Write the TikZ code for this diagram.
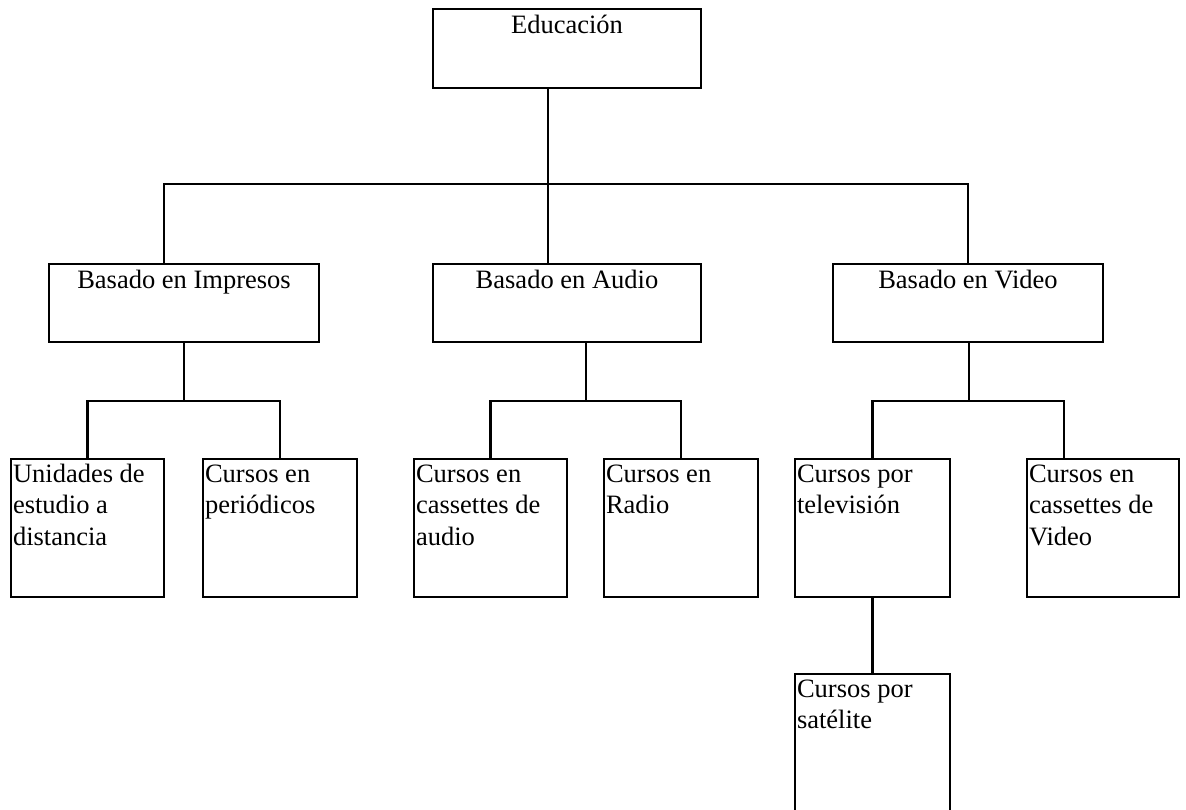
\documentclass[tikz,border=0pt]{standalone}
\usepackage{fontspec}
\setmainfont{Liberation Serif}
\newcommand{\lines}[1]{\parbox[t]{150pt}{\raggedright #1}}
\begin{document}
\begin{tikzpicture}[x=1pt,y=-1pt,
  box/.style={draw=black, line width=2.5pt, rectangle, inner sep=0pt, outer sep=0pt, anchor=north west},
  hd/.style={inner sep=0pt, outer sep=0pt, anchor=base, font=\fontsize{26.5}{31.5}\selectfont},
  lf/.style={inner sep=0pt, outer sep=0pt, anchor=base west, font=\fontsize{26.5}{31.5}\selectfont},
  wire/.style={line width=2.5pt, line cap=rect}]
\useasboundingbox (0,0) rectangle (1186,809);
\fill[white] (0,0) rectangle (1186,809);
\clip (0,0) rectangle (1186,809);
% boxes
\node[box, minimum width=268pt, minimum height=79pt] (edu) at (433,9) {};
\node[box, minimum width=270pt, minimum height=78pt] (imp) at (49,264) {};
\node[box, minimum width=268pt, minimum height=78pt] (aud) at (433,264) {};
\node[box, minimum width=270pt, minimum height=78pt] (vid) at (833,264) {};
\node[box, minimum width=153pt, minimum height=138pt] (uni) at (11,459) {};
\node[box, minimum width=154pt, minimum height=138pt] (per) at (203,459) {};
\node[box, minimum width=153pt, minimum height=138pt] (cas) at (414,459) {};
\node[box, minimum width=154pt, minimum height=138pt] (rad) at (604,459) {};
\node[box, minimum width=155pt, minimum height=138pt] (tv) at (795,459) {};
\node[box, minimum width=152pt, minimum height=138pt] (cv) at (1027,459) {};
\node[box, minimum width=155pt, minimum height=160pt] (sat) at (795,674) {};
% texts
\node[hd] (edut) at ([yshift=-24pt]edu.north) {Educación};
\node[hd] (impt) at ([yshift=-24pt]imp.north) {Basado en Impresos};
\node[hd] (audt) at ([yshift=-24pt]aud.north) {Basado en Audio};
\node[hd] (vidt) at ([yshift=-24pt]vid.north) {Basado en Video};
\node[lf] (unit) at ([xshift=2pt,yshift=-23pt]uni.north west) {\lines{Unidades de\\estudio a\\distancia}};
\node[lf] (pert) at ([xshift=2pt,yshift=-23pt]per.north west) {\lines{Cursos en\\periódicos}};
\node[lf] (cast) at ([xshift=2pt,yshift=-23pt]cas.north west) {\lines{Cursos en\\cassettes de\\audio}};
\node[lf] (radt) at ([xshift=2pt,yshift=-23pt]rad.north west) {\lines{Cursos en\\Radio}};
\node[lf] (tvt) at ([xshift=2pt,yshift=-23pt]tv.north west) {\lines{Cursos por\\televisión}};
\node[lf] (cvt) at ([xshift=2pt,yshift=-23pt]cv.north west) {\lines{Cursos en\\cassettes de\\Video}};
\node[lf] (satt) at ([xshift=2pt,yshift=-23pt]sat.north west) {\lines{Cursos por\\satélite}};
% junctions
\coordinate (busL) at (164,184);
\coordinate (busR) at (968,184);
\coordinate (j1) at (184,401);
\coordinate (j2) at (586,401);
\coordinate (j3) at (969,401);
% connectors
\draw[wire] ([xshift=115pt]edu.south west) -- ([xshift=115pt]edu.south west |- busL);
\draw[wire] (busL) -- (busR);
\draw[wire] (busL) -- (busL |- imp.north);
\draw[wire] ([xshift=115pt]aud.north west |- busL) -- ([xshift=115pt]aud.north west);
\draw[wire] (busR) -- (busR |- vid.north);
\draw[wire] (imp.south) -- (j1);
\draw[wire] (uni.north) |- (j1) -| (per.north);
\draw[wire] ([xshift=153pt]aud.south west) -- (j2);
\draw[wire] (cas.north) |- (j2) -| (rad.north);
\draw[wire] ([xshift=136pt]vid.south west) -- (j3);
\draw[wire] (tv.north) |- (j3) -| ([xshift=37pt]cv.north west);
\draw[wire] (tv.south) -- (sat.north);
\end{tikzpicture}
\end{document}
